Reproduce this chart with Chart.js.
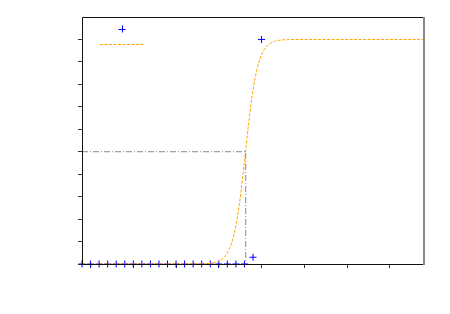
<!DOCTYPE html>
<html>
<head>
<meta charset="utf-8">
<title>Logistic fit</title>
<script src="https://cdn.jsdelivr.net/npm/chart.js@4/dist/chart.umd.min.js"></script>
<style>
  html, body { margin: 0; padding: 0; background: #fff; }
  #wrap { width: 450px; height: 314px; }
</style>
</head>
<body>
<div id="wrap"><canvas id="c" width="450" height="314"></canvas></div>
<script>
// observed samples (blue crosses)
var obsX = [-0.2, 0, 0.2, 0.4, 0.6, 0.8, 1.0, 1.2, 1.4, 1.6, 1.8, 2.0, 2.2, 2.4, 2.6, 2.8, 3.0, 3.2, 3.4, 3.6, 3.8, 4.0];
var obsY = [0, 0, 0, 0, 0, 0, 0, 0, 0, 0, 0, 0, 0, 0, 0, 0, 0, 0, 0, 0, 0.03, 1.0];

// fitted curve (orange dashed)
var fitX = [-0.2, 2.6, 2.8, 3.0, 3.1, 3.2, 3.3, 3.4, 3.5, 3.6, 3.7, 3.8, 3.9, 4.0, 4.1, 4.2, 4.3, 4.4, 4.6, 5.0, 7.8];
var fitY = [0, 0.001, 0.003, 0.012, 0.025, 0.049, 0.093, 0.171, 0.294, 0.456, 0.628, 0.773, 0.873, 0.932, 0.965, 0.982, 0.991, 0.996, 0.999, 1.0, 1.0];

// 0.5 threshold guide (gray dash-dot)
var cutX = [-0.2, 3.63, 3.63];
var cutY = [0.5, 0.5, 0];

var xTicks = [0, 1, 2, 3, 4, 5, 6, 7];
var yTicks = [0, 0.1, 0.2, 0.3, 0.4, 0.5, 0.6, 0.7, 0.8, 0.9, 1.0];

function pts(xs, ys) {
    return xs.map(function (x, i) { return { x: x, y: ys[i] }; });
}

// frame + little legend without text
var frame = {
    id: 'frame',
    afterDatasetsDraw: function (chart) {
        var ctx = chart.ctx, a = chart.chartArea;
        ctx.save();
        ctx.strokeStyle = '#111';
        ctx.lineWidth = 1;
        ctx.beginPath();
        ctx.moveTo(a.left + 0.5, a.bottom + 0.5);
        ctx.lineTo(a.left + 0.5, a.top + 0.5);
        ctx.lineTo(a.right, a.top + 0.5);
        ctx.moveTo(a.left, a.bottom + 0.5);
        ctx.lineTo(a.right, a.bottom + 0.5);
        ctx.stroke();
        ctx.strokeStyle = '#888';
        ctx.lineWidth = 2;
        ctx.beginPath();
        ctx.moveTo(a.right, a.top);
        ctx.lineTo(a.right, a.bottom + 1);
        ctx.stroke();

        // legend handles
        var lx = a.left + 18, ly = a.top + 12;
        ctx.strokeStyle = '#0000ff';
        ctx.lineWidth = 1;
        ctx.beginPath();
        ctx.moveTo(lx + 22 - 3.5, ly + 0.5);
        ctx.lineTo(lx + 22 + 3.5, ly + 0.5);
        ctx.moveTo(lx + 22.5, ly - 3.5);
        ctx.lineTo(lx + 22.5, ly + 3.5);
        ctx.stroke();
        ctx.strokeStyle = '#ffa500';
        ctx.setLineDash([3, 1.5]);
        ctx.beginPath();
        ctx.moveTo(lx, ly + 15.5);
        ctx.lineTo(lx + 44, ly + 15.5);
        ctx.stroke();
        ctx.restore();
    }
};

function zeroFit(s) {
    if (s.isHorizontal()) s.height = 0; else s.width = 0;
}

new Chart(document.getElementById('c'), {
    type: 'scatter',
    data: {
        datasets: [{
            type: 'line',
            data: pts(cutX, cutY),
            borderColor: '#888',
            borderWidth: 1,
            borderDash: [6, 2, 1, 2],
            pointRadius: 0,
            fill: false
        }, {
            type: 'line',
            data: pts(fitX, fitY),
            borderColor: '#ffa500',
            borderWidth: 1,
            borderDash: [3, 1.5],
            cubicInterpolationMode: 'monotone',
            pointRadius: 0,
            fill: false,
            clip: false
        }, {
            data: pts(obsX, obsY),
            pointStyle: 'cross',
            pointRadius: 3.5,
            borderColor: '#0000ff',
            backgroundColor: '#0000ff',
            borderWidth: 1,
            clip: false
        }]
    },
    options: {
        responsive: false,
        animation: false,
        devicePixelRatio: 1,
        layout: { padding: { left: 82, top: 17, right: 26, bottom: 50 } },
        plugins: {
            legend: { display: false },
            tooltip: { enabled: false }
        },
        scales: {
            x: {
                type: 'linear',
                min: -0.2,
                max: 7.8,
                afterBuildTicks: function (s) { s.ticks = xTicks.map(function (v) { return { value: v }; }); },
                afterFit: zeroFit,
                ticks: { display: false },
                border: { display: false },
                grid: { drawOnChartArea: false, drawTicks: true, tickLength: 4, color: '#333', lineWidth: 1 }
            },
            y: {
                min: 0,
                max: 1.1,
                afterBuildTicks: function (s) { s.ticks = yTicks.map(function (v) { return { value: v }; }); },
                afterFit: zeroFit,
                ticks: { display: false },
                border: { display: false },
                grid: { drawOnChartArea: false, drawTicks: true, tickLength: 4, color: '#333', lineWidth: 1 }
            }
        }
    },
    plugins: [frame]
});
</script>
</body>
</html>
